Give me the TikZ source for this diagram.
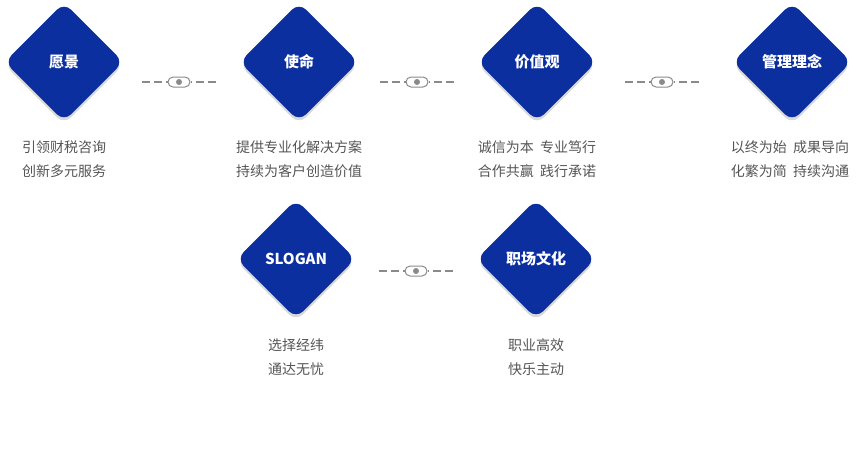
\documentclass[tikz,border=0pt]{standalone}
\usepackage{fontspec}
\setmainfont{Noto Sans CJK SC}
\usetikzlibrary{shadows}
\definecolor{brand}{HTML}{0B2F9F}
\definecolor{txtgray}{HTML}{555555}
\definecolor{linegray}{HTML}{8A8A8A}
\tikzset{
  gem/.style={fill=brand, rotate=45, minimum size=84pt, rounded corners=10pt,
    drop shadow={shadow xshift=0pt, shadow yshift=-3pt, opacity=0.25, fill=black!60}},
  gemtext/.style={text=white, font=\bfseries\fontsize{15}{18}\selectfont},
  desc/.style={text=txtgray, font=\fontsize{14}{24}\selectfont, align=center},
  link/.style={linegray, line width=1.2pt, dash pattern=on 8pt off 4pt},
  pill/.style={draw=linegray, line width=1pt, rounded corners=5pt, minimum width=22pt, minimum height=10pt, inner sep=0pt}
}
\newcommand{\linker}[3]{% name, x, y
  \node[pill] (#1) at (#2,#3) {};
  \fill[linegray] (#1) circle (3pt);
  \draw[link] ([xshift=-37pt]#1.center) -- (#1.west);
  \draw[link] ([xshift=37pt]#1.center) -- (#1.east);
}
\begin{document}
\begin{tikzpicture}[x=1pt, y=-1pt]
  \useasboundingbox (0,0) rectangle (859,456);
  % top row
  \node[gem] (vision) at (64,62) {};
  \node[gemtext] at (vision) {愿景};
  \node[gem] (mission) at (299,62) {};
  \node[gemtext] at (mission) {使命};
  \node[gem] (values) at (537,62) {};
  \node[gemtext] at (values) {价值观};
  \node[gem] (idea) at (792,62) {};
  \node[gemtext] at (idea) {管理理念};
  % bottom row
  \node[gem] (slogan) at (296,259) {};
  \node[gemtext] at (slogan) {SLOGAN};
  \node[gem] (culture) at (536,259) {};
  \node[gemtext] at (culture) {职场文化};
  % connectors
  \linker{l1}{179}{82}
  \linker{l2}{417}{82}
  \linker{l3}{662}{82}
  \linker{l4}{416}{271}
  % descriptions
  \node[desc] (dvision) at (64,159) {引领财税咨询\\创新多元服务};
  \node[desc] (dmission) at (299,159) {提供专业化解决方案\\持续为客户创造价值};
  \node[desc] (dvalues) at (537,159) {诚信为本\ \ 专业笃行\\合作共赢\ \ 践行承诺};
  \node[desc] (didea) at (790,159) {以终为始\ \ 成果导向\\化繁为简\ \ 持续沟通};
  \node[desc] (dslogan) at (296,357) {选择经纬\\通达无忧};
  \node[desc] (dculture) at (536,357) {职业高效\\快乐主动};
\end{tikzpicture}
\end{document}
